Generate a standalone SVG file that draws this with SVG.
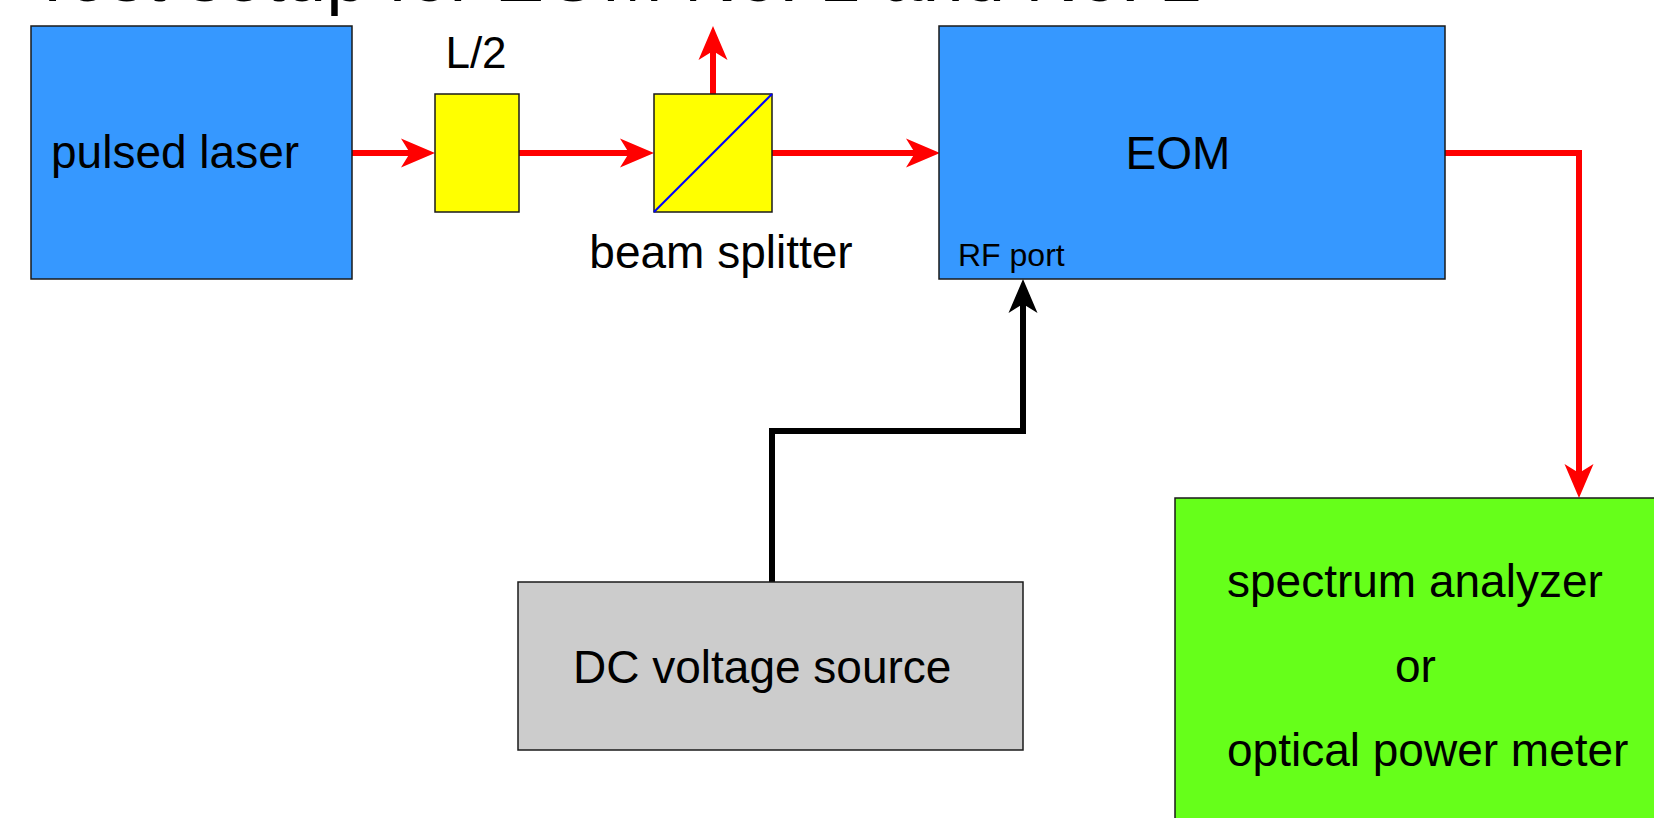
<svg xmlns="http://www.w3.org/2000/svg" width="1654" height="818" viewBox="0 0 1654 818">
<style>
text{font-family:"Liberation Sans",Arial,sans-serif;fill:#000}
.box{stroke:#1a1a1a;stroke-width:1.5}
.blue{fill:#3698ff}
.yel{fill:#ffff00}
.gray{fill:#cccccc}
.green{fill:#66ff1a}
.red{fill:none;stroke:#ff0000;stroke-width:6}
.blk{fill:none;stroke:#000;stroke-width:6}
.t46{font-size:46px}
</style>
<defs>
<marker id="arR" viewBox="-35 -16 37 32" refX="-25" refY="0" markerWidth="37" markerHeight="32" markerUnits="userSpaceOnUse" orient="auto"><path d="M0,0 L-34,-14.5 L-25,0 L-34,14.5 Z" fill="#ff0000"/></marker>
<marker id="arK" viewBox="-35 -16 37 32" refX="-25" refY="0" markerWidth="37" markerHeight="32" markerUnits="userSpaceOnUse" orient="auto"><path d="M0,0 L-34,-14.5 L-25,0 L-34,14.5 Z" fill="#000"/></marker>
</defs>
<rect width="1654" height="818" fill="#fff"/>
<text x="30" y="1" style="font-size:74px">Test setup for EOM No. 1 and No. 2</text>
<g id="connectors">
<path class="red" d="M352,153 H410" marker-end="url(#arR)"/>
<path class="red" d="M519,153 H629" marker-end="url(#arR)"/>
<path class="red" d="M772,153 H915" marker-end="url(#arR)"/>
<path class="red" d="M713,94 V51" marker-end="url(#arR)"/>
<path class="red" d="M1445,153 H1579 V473" marker-end="url(#arR)"/>
<path class="blk" d="M772,582 V431 H1023 V304" marker-end="url(#arK)"/>
</g>
<g id="pulsed-laser">
<rect class="box blue" x="31" y="26" width="321" height="253"/>
<text class="t46" x="51" y="168">pulsed laser</text>
</g>
<g id="half-wave-plate">
<rect class="box yel" x="435" y="94" width="84" height="118"/>
<text x="476" y="68" text-anchor="middle" style="font-size:44px">L/2</text>
</g>
<g id="beam-splitter">
<rect class="box yel" x="654" y="94" width="118" height="118"/>
<line x1="654" y1="212" x2="772" y2="94" stroke="#0000ff" stroke-width="2"/>
<text class="t46" x="721" y="268" text-anchor="middle">beam splitter</text>
</g>
<g id="eom">
<rect class="box blue" x="939" y="26" width="506" height="253"/>
<text class="t46" x="1178" y="169" text-anchor="middle">EOM</text>
<text x="958" y="266" style="font-size:32px">RF port</text>
</g>
<g id="dc-source">
<rect class="box gray" x="518" y="582" width="505" height="168"/>
<text class="t46" x="573" y="683">DC voltage source</text>
</g>
<g id="analyzer">
<rect class="box green" x="1175" y="498" width="500" height="340"/>
<text class="t46" x="1227" y="597">spectrum analyzer</text>
<text class="t46" x="1395" y="682">or</text>
<text class="t46" x="1227" y="766">optical power meter</text>
</g>
</svg>
